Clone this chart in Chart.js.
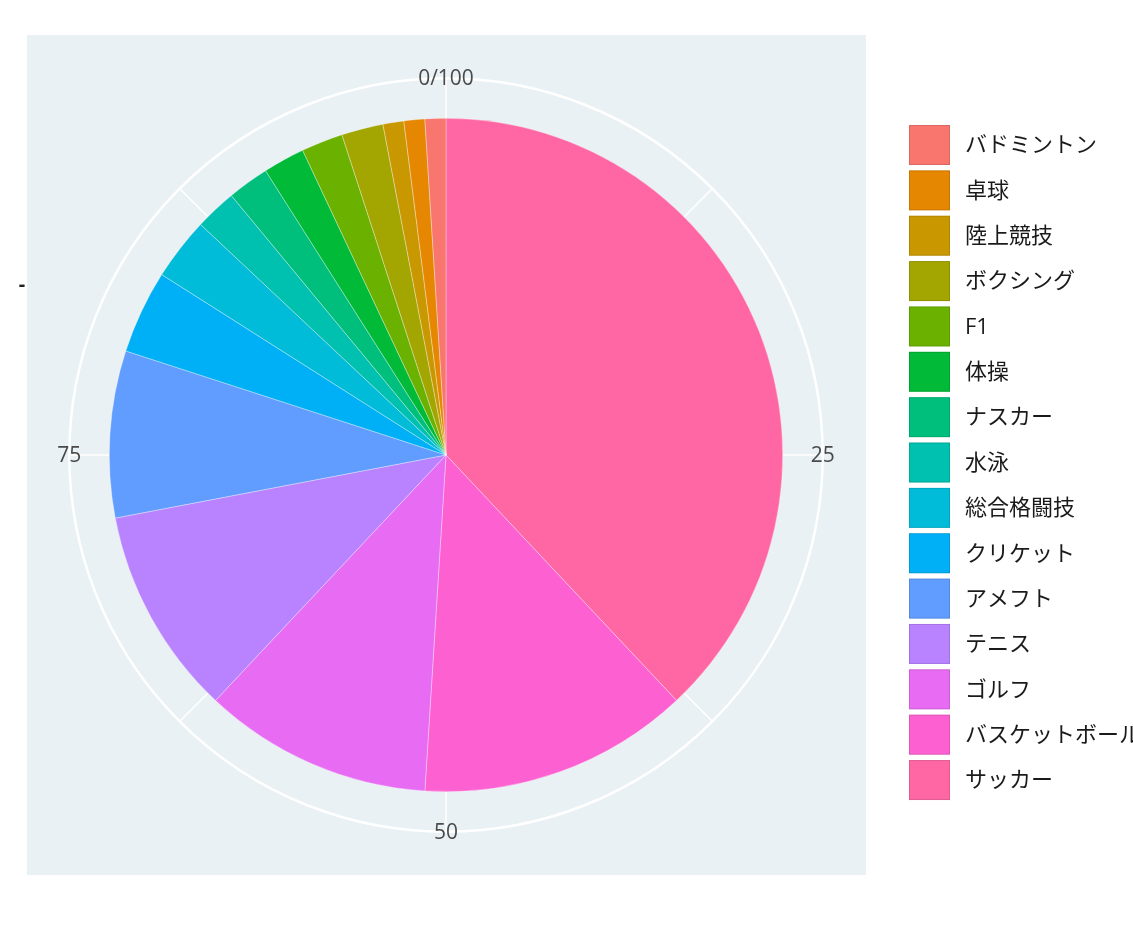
<!DOCTYPE html>
<html>
<head>
<meta charset="utf-8">
<script src="https://cdn.jsdelivr.net/npm/chart.js@4.4.0/dist/chart.umd.min.js"></script>
<style>
html,body{margin:0;padding:0;background:#fff;}
#wrap{width:1133px;height:944px;position:relative;}
</style>
</head>
<body>
<div id="wrap"><canvas id="c" width="1133" height="944"></canvas></div>
<script>
// Categories in clockwise order starting at 0 (top)
const categories = ["サッカー","バスケットボール","ゴルフ","テニス","アメフト","クリケット","総合格闘技","水泳","ナスカー","体操","F1","ボクシング","陸上競技","卓球","バドミントン"];
// Angular width of each wedge on the 0–100 angular scale
const shares = [38, 13, 11, 10, 8, 4, 3, 2, 2, 2, 2, 2, 1, 1, 1];
const colors = ["#FF67A4","#FD61D1","#E76BF3","#B983FF","#619CFF","#00B0F6","#00BCD8","#00C0AF","#00BF7D","#00BA38","#6BB100","#A3A500","#C99800","#E58700","#F8766D"];
// Angular axis tick labels
const angularTicks = ["0/100","25","50","75"];
const angularTickValues = [0,25,50,75];
const gridValues = [0,12.5,25,37.5,50,62.5,75,87.5];

const FONT = '"Open Sans","Noto Sans CJK JP",sans-serif';
const BG = '#e9f1f4';

const polarBg = {
  id: 'polarBg',
  beforeDatasetsDraw(chart) {
    const ctx = chart.ctx;
    const meta = chart.getDatasetMeta(0);
    const arc = meta.data[0];
    const cx = arc.x, cy = arc.y, rIn = arc.outerRadius;
    const rOut = rIn + 40;
    ctx.save();
    ctx.fillStyle = BG;
    ctx.fillRect(27, 35, 839, 840);
    // angular grid lines
    ctx.strokeStyle = '#ffffff';
    ctx.lineWidth = 1.5;
    gridValues.forEach(v => {
      const a = v / 100 * 2 * Math.PI - Math.PI / 2;
      ctx.beginPath();
      ctx.moveTo(cx, cy);
      ctx.lineTo(cx + rOut * Math.cos(a), cy + rOut * Math.sin(a));
      ctx.stroke();
    });
    // outer circle
    ctx.lineWidth = 2.5;
    ctx.beginPath();
    ctx.arc(cx, cy, rOut, 0, 2 * Math.PI);
    ctx.stroke();
    // tick labels
    ctx.fillStyle = '#4a4a4a';
    ctx.font = '21px ' + FONT;
    ctx.textAlign = 'center';
    ctx.textBaseline = 'middle';
    angularTickValues.forEach((v, i) => {
      const a = v / 100 * 2 * Math.PI - Math.PI / 2;
      ctx.fillText(angularTicks[i], cx + rOut * Math.cos(a), cy + rOut * Math.sin(a) + 1);
    });
    ctx.fillStyle = '#222';
    ctx.font = 'bold 20px ' + FONT;
    ctx.fillText('-', 22, 285);
    ctx.restore();
  }
};

const customLegend = {
  id: 'customLegend',
  afterDraw(chart) {
    const ctx = chart.ctx;
    const labels = chart.data.labels;
    const bg = chart.data.datasets[0].backgroundColor;
    ctx.save();
    ctx.font = '22px ' + FONT;
    ctx.textAlign = 'left';
    ctx.textBaseline = 'middle';
    const n = labels.length;
    for (let k = 0; k < n; k++) {
      const i = n - 1 - k;
      const yc = 145 + k * 45.36;
      ctx.fillStyle = bg[i];
      ctx.fillRect(909, yc - 20, 41, 40);
      ctx.strokeStyle = 'rgba(0,0,0,0.12)';
      ctx.lineWidth = 1;
      ctx.strokeRect(909.5, yc - 19.5, 40, 39);
      ctx.fillStyle = '#1a1a1a';
      ctx.fillText(labels[i], 965, yc + 1);
    }
    ctx.restore();
  }
};

new Chart(document.getElementById('c'), {
  type: 'pie',
  data: {
    labels: categories,
    datasets: [{
      data: shares,
      backgroundColor: colors,
      borderColor: 'rgba(255,255,255,0.55)',
      borderWidth: 0.6
    }]
  },
  options: {
    responsive: false,
    animation: false,
    rotation: 0,
    layout: { padding: { left: 109, right: 350, top: 118, bottom: 152 } },
    plugins: {
      legend: { display: false },
      tooltip: { enabled: false }
    }
  },
  plugins: [polarBg, customLegend]
});
</script>
</body>
</html>
